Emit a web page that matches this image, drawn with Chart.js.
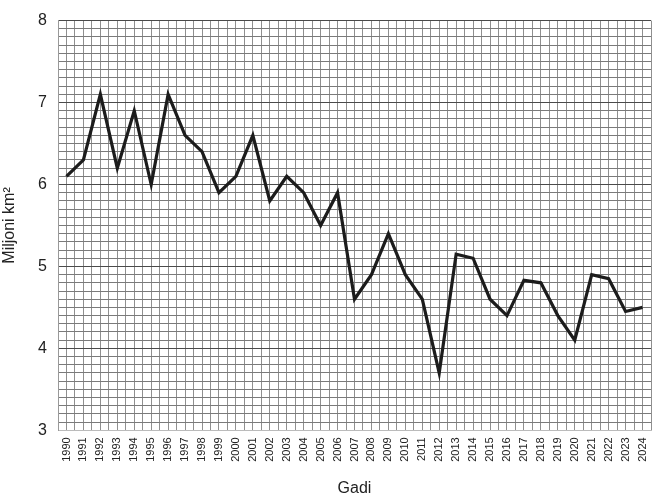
<!DOCTYPE html>
<html>
<head>
<meta charset="utf-8">
<script src="https://cdn.jsdelivr.net/npm/chart.js@4"></script>
<style>
  html, body { margin: 0; padding: 0; background: #fff; }
  #wrap { width: 658px; height: 500px; position: relative; }
</style>
</head>
<body>
<div id="wrap"><canvas id="chart"></canvas></div>
<script>
const years = [1990, 1991, 1992, 1993, 1994, 1995, 1996, 1997, 1998, 1999,
  2000, 2001, 2002, 2003, 2004, 2005, 2006, 2007, 2008, 2009,
  2010, 2011, 2012, 2013, 2014, 2015, 2016, 2017, 2018, 2019,
  2020, 2021, 2022, 2023, 2024];
const extent = [6.1, 6.3, 7.1, 6.2, 6.9, 6.0, 7.1, 6.6, 6.4, 5.9,
  6.1, 6.6, 5.8, 6.1, 5.9, 5.5, 5.9, 4.6, 4.9, 5.4,
  4.9, 4.6, 3.7, 5.15, 5.1, 4.6, 4.4, 4.83, 4.8, 4.4,
  4.1, 4.9, 4.85, 4.45, 4.5];
const yTicks = [3, 4, 5, 6, 7, 8];

const isWhole = (v) => Math.abs(v - Math.round(v)) < 1e-6;
const font = "'Liberation Sans', Arial, sans-serif";

new Chart(document.getElementById("chart"), {
  type: "line",
  data: {
    datasets: [
      {
        data: years.map((y, i) => ({ x: y, y: extent[i] })),
        borderColor: "#1c1c1c",
        borderWidth: 3.2,
        pointRadius: 0,
        tension: 0,
        fill: false,
      },
    ],
  },
  options: {
    responsive: true,
    maintainAspectRatio: false,
    animation: false,
    layout: { padding: { top: 8, right: 7, left: 0, bottom: 2 } },
    plugins: { legend: { display: false }, tooltip: { enabled: false } },
    scales: {
      x: {
        type: "linear",
        min: years[0] - 0.5,
        max: years[years.length - 1] + 0.5,
        grid: {
          color: "#8f8f8f",
          lineWidth: 1,
          drawTicks: false,
        },
        border: { color: "#bbb" },
        ticks: {
          stepSize: 0.5,
          autoSkip: false,
          minRotation: 90,
          maxRotation: 90,
          padding: 7,
          color: "#222",
          font: { family: font, size: 11 },
          callback: (v) => (isWhole(v) ? String(Math.round(v)) : ""),
        },
        title: {
          display: true,
          text: "Gadi",
          color: "#222",
          font: { family: font, size: 16 },
          padding: { top: 10, bottom: 0 },
        },
        afterFit: (scale) => { scale.paddingLeft = 0; scale.paddingRight = 0; },
      },
      y: {
        min: yTicks[0],
        max: yTicks[yTicks.length - 1],
        grid: {
          color: (ctx) => (isWhole(ctx.tick.value) ? "#4a4a4a" : "#7a7a7a"),
          lineWidth: 1,
          drawTicks: false,
        },
        border: { color: "#999" },
        ticks: {
          stepSize: 0.1,
          autoSkip: false,
          padding: 11,
          color: "#222",
          font: { family: font, size: 16 },
          callback: (v) => (isWhole(v) && yTicks.includes(Math.round(v)) ? String(Math.round(v)) : ""),
        },
        title: {
          display: true,
          text: "Miljoni km²",
          color: "#222",
          font: { family: font, size: 16 },
          padding: { top: 0, bottom: 4 },
        },
        afterFit: (scale) => { scale.width = 58; },
      },
    },
  },
});
</script>
</body>
</html>
